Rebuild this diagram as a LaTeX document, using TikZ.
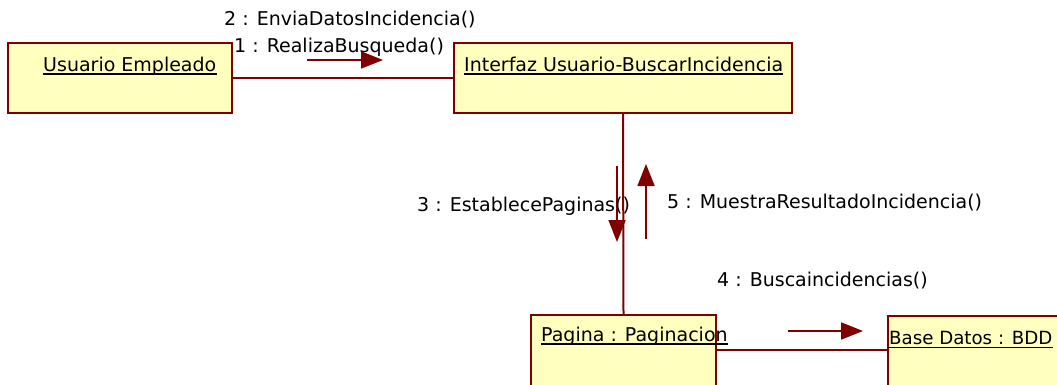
\documentclass[tikz,border=0pt]{standalone}
\usepackage{fontspec}
\setmainfont{DejaVu Sans}
\usetikzlibrary{arrows.meta,calc}
\definecolor{boxfill}{RGB}{255,255,192}
\definecolor{dred}{RGB}{128,0,0}
\tikzset{
  objbox/.style={draw=dred, fill=boxfill, line width=1.8pt, inner sep=0pt},
  objtext/.style={anchor=west, inner sep=0pt, font=\fontsize{19}{22}\selectfont},
  msgtext/.style={anchor=west, inner sep=0pt, font=\fontsize{19}{22}\selectfont},
  link/.style={draw=dred, line width=2pt},
  msg/.style={draw=dred, line width=1.8pt, -{Triangle[length=22pt,width=17pt]}},
  uline/.style={line width=1.6pt, black}
}
\begin{document}
\begin{tikzpicture}[x=1pt,y=-1pt]
\useasboundingbox (0,0) rectangle (1057,385);
% boxes
\node[objbox, minimum width=224pt, minimum height=70pt] (ue) at (120,78) {};
\node[objbox, minimum width=338pt, minimum height=70pt] (ui) at (623,78) {};
\node[objbox, minimum width=185pt, minimum height=80pt] (pg) at (623.5,355) {};
\node[objbox, minimum width=180pt, minimum height=80pt] (bd) at (978,356) {};
% box texts
\node[objtext] (tue) at (43,66) {Usuario Empleado};
\node[objtext] (tui) at (464,64) {Interfaz Usuario-BuscarIncidencia};
\node[objtext] (tpg) at (541,336) {Pagina : Paginacion};
\node[objtext, font=\fontsize{18.2}{22}\selectfont] (tbd) at (889,338) {Base Datos : BDD};
\foreach \t in {tue,tui,tpg,tbd}{
  \draw[uline] ($(\t.base west)+(0,3)$) -- ($(\t.base east)+(0,3)$);
}
% links
\coordinate (l4) at (0,350);
\draw[link] (ue.east) -- (ui.west);
\draw[link] (ui.south) -- (pg.north);
\draw[link] (pg.east |- l4) -- (bd.west |- l4);
% message arrows
\coordinate (m1a) at (307,60); \coordinate (m1b) at (383,60);
\coordinate (m3a) at (617,166); \coordinate (m3b) at (617,242);
\coordinate (m5a) at (646,239); \coordinate (m5b) at (646,164);
\coordinate (m4a) at (788,331); \coordinate (m4b) at (863,331);
\draw[msg] (m1a) -- (m1b);
\draw[msg] (m3a) -- (m3b);
\draw[msg] (m5a) -- (m5b);
\draw[msg] (m4a) -- (m4b);
% message labels
\node[msgtext] (lb2) at (224,20) {2 : EnviaDatosIncidencia()};
\node[msgtext] (lb1) at (234,47) {1 : RealizaBusqueda()};
\node[msgtext] (lb3) at (417,206) {3 : EstablecePaginas()};
\node[msgtext] (lb5) at (667,203) {5 : MuestraResultadoIncidencia()};
\node[msgtext] (lb4) at (717,281) {4 : Buscaincidencias()};
\end{tikzpicture}
\end{document}
